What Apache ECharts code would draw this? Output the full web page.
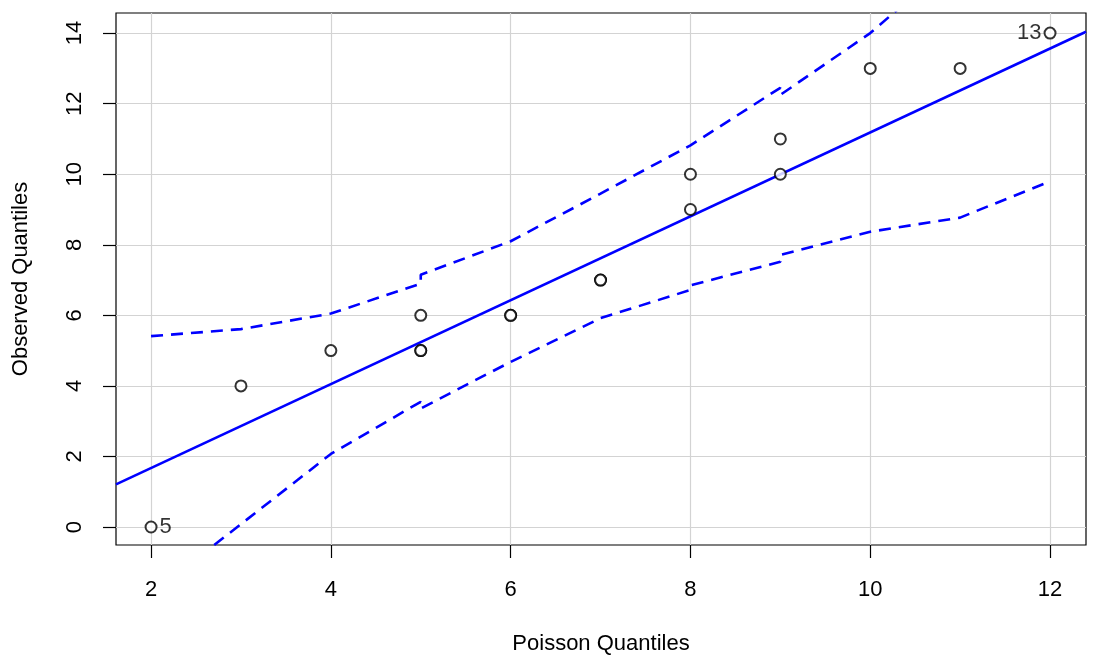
<!DOCTYPE html>
<html>
<head>
<meta charset="utf-8">
<script src="https://cdn.jsdelivr.net/npm/echarts@6/dist/echarts.min.js"></script>
<style>
  html, body { margin: 0; padding: 0; background: #fff; }
  #chart { width: 1094px; height: 667px; }
</style>
</head>
<body>
<div id="chart"></div>
<script>
// observed vs poisson quantiles
const pointX = [2, 3, 4, 5, 5, 5, 6, 6, 7, 7, 8, 8, 9, 9, 10, 11, 12]
const pointY = [0, 4, 5, 5, 5, 6, 6, 6, 7, 7, 9, 10, 10, 11, 13, 13, 14]
const pointLabels = ['5', '', '', '', '', '', '', '', '', '', '', '', '', '', '', '', '13']

// reference line (two ends at the plot edges)
const lineX = [1.61, 12.4]
const lineY = [1.21, 14.04]

// confidence envelope
const upperX = [2, 3, 4, 5, 5, 6, 7, 8, 9, 9, 10, 11, 12]
const upperY = [5.41, 5.61, 6.05, 6.9, 7.15, 8.1, 9.45, 10.82, 12.45, 12.25, 14.0, 16.2, 17.8]
const lowerX = [2, 3, 4, 5, 5, 6, 7, 8, 8, 9, 9, 10, 11, 12]
const lowerY = [-1.9, 0.08, 2.07, 3.55, 3.36, 4.68, 5.92, 6.72, 6.85, 7.52, 7.71, 8.37, 8.77, 9.8]

const xTicks = [2, 4, 6, 8, 10, 12]
const yTicks = [0, 2, 4, 6, 8, 10, 12, 14]

const zip = (xs, ys) => xs.map((x, i) => [x, ys[i]])

const chart = echarts.init(document.getElementById('chart'))
const font = 'Liberation Sans, Arial, sans-serif'

// points, with the two labelled ones ("5" to the right, "13" to the left)
const pointData = pointX.map((x, i) => {
  const item = { value: [x, pointY[i]] }
  if (pointLabels[i]) {
    item.label = {
      show: true,
      formatter: pointLabels[i],
      position: i === 0 ? 'right' : 'left',
      color: '#000',
    }
  }
  return item
})

chart.setOption({
  animation: false,
  backgroundColor: '#fff',
  grid: {
    left: 116, right: 8, top: 13, bottom: 122,
    show: true, borderColor: '#000', borderWidth: 1.2,
  },
  xAxis: {
    type: 'value',
    min: 1.61,
    max: 12.4,
    name: 'Poisson Quantiles',
    nameLocation: 'middle',
    nameGap: 88,
    nameTextStyle: { color: '#000', fontSize: 22, fontFamily: font },
    axisLine: { show: false, onZero: false },
    axisTick: { show: true, inside: false, length: 13, customValues: xTicks, lineStyle: { color: '#000', width: 1.2 } },
    axisLabel: { customValues: xTicks, color: '#000', fontSize: 22, fontFamily: font, margin: 34 },
    splitLine: { show: true, lineStyle: { color: '#d3d3d3', width: 1.2 } },
  },
  yAxis: {
    type: 'value',
    min: -0.51,
    max: 14.57,
    name: 'Observed Quantiles',
    nameLocation: 'middle',
    nameGap: 84,
    nameRotate: 90,
    nameTextStyle: { color: '#000', fontSize: 22, fontFamily: font },
    axisLine: { show: false, onZero: false },
    axisTick: { show: true, inside: false, length: 13, customValues: yTicks, lineStyle: { color: '#000', width: 1.2 } },
    axisLabel: { customValues: yTicks, rotate: 90, color: '#000', fontSize: 22, fontFamily: font, margin: 30 },
    splitLine: { show: true, lineStyle: { color: '#d3d3d3', width: 1.2 } },
  },
  series: [
    {
      type: 'line',
      data: zip(upperX, upperY),
      showSymbol: false,
      lineStyle: { color: '#0000ff', width: 2.6, type: [12, 8] },
      z: 3,
    },
    {
      type: 'line',
      data: zip(lowerX, lowerY),
      showSymbol: false,
      lineStyle: { color: '#0000ff', width: 2.6, type: [12, 8] },
      z: 3,
    },
    {
      type: 'line',
      data: zip(lineX, lineY),
      showSymbol: false,
      lineStyle: { color: '#0000ff', width: 2.6 },
      z: 3,
    },
    {
      type: 'scatter',
      data: pointData,
      symbol: 'emptyCircle',
      symbolSize: 11,
      itemStyle: { color: '#000', borderColor: '#000', borderWidth: 1.3 },
      label: {
        show: false,
        fontSize: 22,
        fontFamily: font,
        color: '#000',
        distance: 2,
      },
      z: 4,
    },
  ],
})
</script>
</body>
</html>
